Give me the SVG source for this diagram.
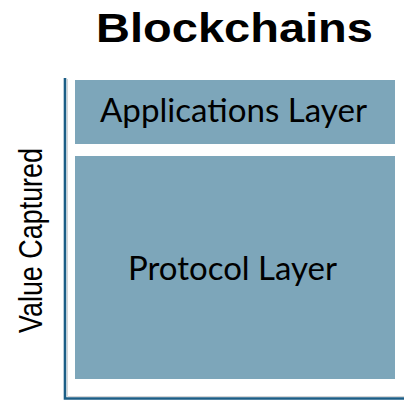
<svg xmlns="http://www.w3.org/2000/svg" width="404" height="401" viewBox="0 0 404 401">
<style>
.box{fill:#7DA6BA;}
.lbl{font-family:Lato,"Open Sans","Liberation Sans",sans-serif;font-size:33px;fill:#000;}
.title{font-family:"Liberation Sans",Arial,sans-serif;font-weight:bold;font-size:41px;fill:#000;}
.ylab{font-family:"Liberation Sans",Arial,sans-serif;font-size:33px;fill:#000;}
.axis{fill:none;stroke:#1C5E86;stroke-width:2.6;}
.axis2{fill:none;stroke:#D6D6D6;stroke-width:1;}
</style>
<rect width="404" height="401" fill="#fff"/>
<text id="title" class="title" x="96" y="42" textLength="277" lengthAdjust="spacingAndGlyphs">Blockchains</text>
<g id="axes">
<path class="axis2" d="M67.5 79 V396.5 H404"/>
<path class="axis" d="M65 78 V398.5 H404"/>
<text class="ylab" transform="translate(42,333) rotate(-90)" textLength="185" lengthAdjust="spacingAndGlyphs">Value Captured</text>
</g>
<g id="applications">
<rect class="box" x="75" y="80" width="320" height="64"/>
<text class="lbl" x="100" y="121.5" textLength="267" lengthAdjust="spacingAndGlyphs">Applications Layer</text>
</g>
<g id="protocol">
<rect class="box" x="75" y="156" width="320" height="223"/>
<text class="lbl" x="128" y="280" textLength="209" lengthAdjust="spacingAndGlyphs">Protocol Layer</text>
</g>
</svg>
